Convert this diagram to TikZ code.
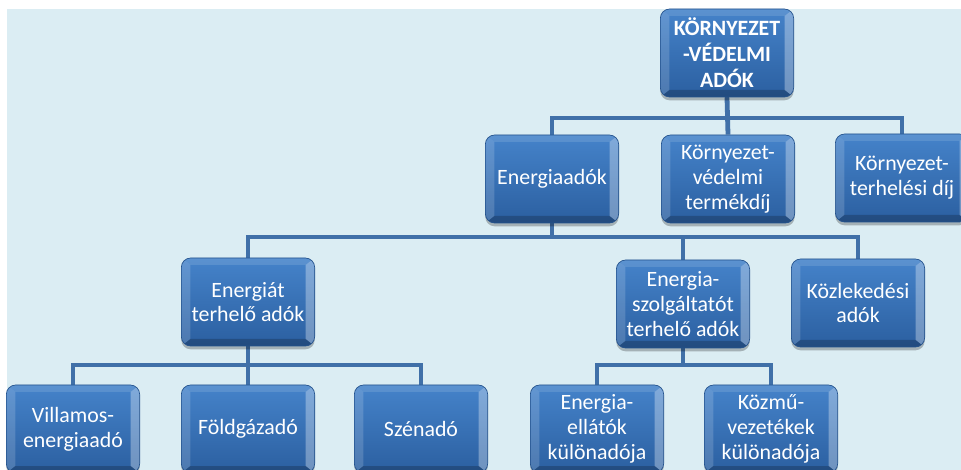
\documentclass[tikz,border=0pt]{standalone}
\usepackage{fontspec}
\setmainfont{Carlito}
\usetikzlibrary{backgrounds,shadows}
\definecolor{bgblue}{HTML}{DBEDF3}
\definecolor{boxtop}{HTML}{4583CA}
\definecolor{boxbot}{HTML}{2B5FA0}
\definecolor{boxedge}{HTML}{24528C}
\definecolor{linkblue}{HTML}{4070A8}

\begin{document}
\begin{tikzpicture}[x=0.75pt,y=-0.75pt]
\tikzset{tb/.style={rounded corners=7pt,minimum width=100pt,minimum height=66pt,inner sep=1pt,align=center,text=white,font=\fontsize{16.4pt}{18.6pt}\selectfont,top color=boxtop,bottom color=boxbot,draw=boxedge,line width=.5pt,drop shadow={shadow xshift=0pt,shadow yshift=-2.5pt,opacity=.25,fill=black},
  path picture={\path[sharp corners] (path picture bounding box.north west) coordinate (a) (path picture bounding box.north east) coordinate (b) (path picture bounding box.south east) coordinate (c) (path picture bounding box.south west) coordinate (d) ([shift={(9,7)}]a) coordinate (ai) ([shift={(-9,7)}]b) coordinate (bi) ([shift={(-9,-7)}]c) coordinate (ci) ([shift={(9,-7)}]d) coordinate (di);
   \fill[white,opacity=.12,sharp corners] (a)--(b)--(bi)--(ai)--cycle; \fill[white,opacity=.16,sharp corners] (a)--(ai)--(di)--(d)--cycle;
   \fill[white,opacity=.32,sharp corners] (b)--(c)--(ci)--(bi)--cycle; \fill[black,opacity=.2,sharp corners] (d)--(c)--(ci)--(di)--cycle;}},
 rootbox/.style={tb,font=\fontsize{16.4pt}{19.5pt}\selectfont\bfseries},
 link/.style={draw=linkblue,line width=3.6pt}}
\useasboundingbox (0,0) rectangle (961,470);
\clip (0,0) rectangle (961,470);
\node[rootbox] (root) at (727,53) {KÖRNYEZET\\-VÉDELMI\\ADÓK};
\node[tb] (en) at (552,179) {Energiaadók}; \node[tb] (tk) at (728,179) {Környezet-\\védelmi\\termékdíj}; \node[tb] (th) at (902,178) {Környezet-\\terhelési díj};
\node[tb] (ea) at (248,302) {Energiát\\terhelő adók}; \node[tb] (esz) at (683,304) {Energia-\\szolgáltatót\\terhelő adók}; \node[tb] (kz) at (858,303) {Közlekedési\\adók};
\node[tb] (vil) at (73,429) {Villamos-\\energiaadó}; \node[tb] (fg) at (248,429) {Földgázadó}; \node[tb] (sz) at (421,429) {Szénadó};
\node[tb] (eel) at (597,429) {Energia-\\ellátók\\különadója}; \node[tb] (km) at (771,429) {Közmű-\\vezetékek\\különadója};
\coordinate (bus1) at (0,118); \coordinate (bus2) at (0,237); \coordinate (bus3) at (0,365);
\begin{scope}[on background layer]
\fill[white] (0,0) rectangle (961,470);
\fill[bgblue] (7,9) rectangle (961,470);
\draw[link] (root.south) -- (root.south|-bus1) -| (en.north); \draw[link] (root.south|-bus1) -| (th.north); \draw[link] (root.south) -- (tk.north);
\draw[link] (en.south) -- (en.south|-bus2) -| (ea.north); \draw[link] (en.south|-bus2) -| (kz.north); \draw[link] (esz.north) -- (esz.north|-bus2);
\draw[link] (ea.south) -- (ea.south|-bus3) -| (vil.north); \draw[link] (ea.south|-bus3) -| (sz.north); \draw[link] (fg.north) -- (fg.north|-bus3);
\draw[link] (esz.south) -- (esz.south|-bus3) -| (eel.north); \draw[link] (esz.south|-bus3) -| (km.north);
\end{scope}
\end{tikzpicture}
\end{document}
